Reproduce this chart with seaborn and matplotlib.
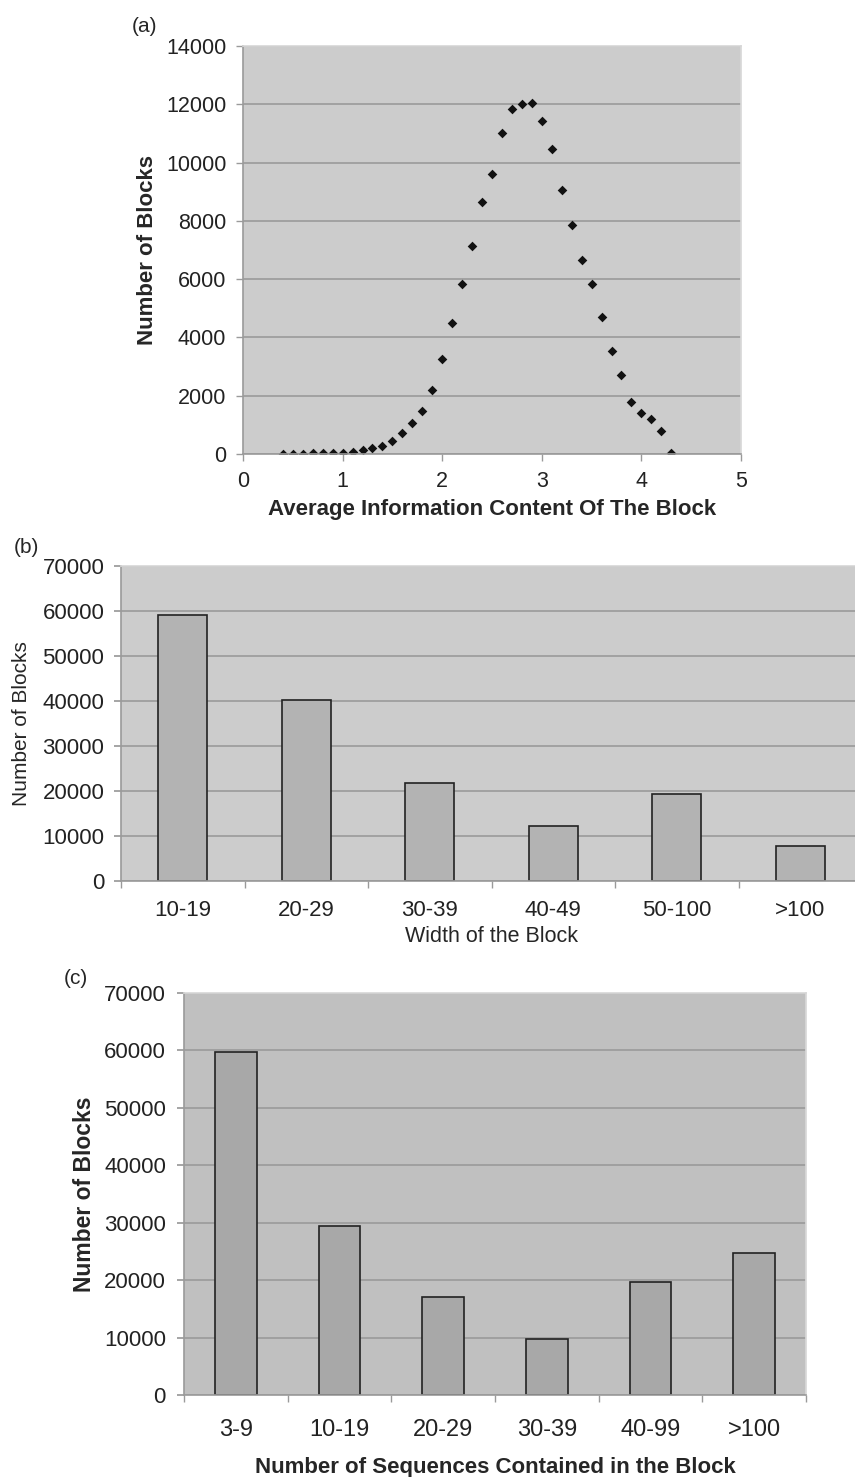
import numpy as np
import pandas as pd
import seaborn as sns
import matplotlib.pyplot as plt

# (a) average information content vs. number of blocks
info_content = [0.4, 0.5, 0.6, 0.7, 0.8, 0.9, 1.0, 1.1, 1.2, 1.3, 1.4, 1.5, 1.6, 1.7,
                1.8, 1.9, 2.0, 2.1, 2.2, 2.3, 2.4, 2.5, 2.6, 2.7, 2.8, 2.9, 3.0, 3.1,
                3.2, 3.3, 3.4, 3.5, 3.6, 3.7, 3.8, 3.9, 4.0, 4.1, 4.2, 4.3]
info_blocks = [0, 0, 0, 20, 20, 45, 45, 70, 125, 195, 275, 460, 710, 1050,
               1490, 2185, 3270, 4500, 5850, 7150, 8660, 9600, 11000, 11850, 12000, 12040, 11430, 10460,
               9050, 7870, 6650, 5835, 4690, 3535, 2710, 1800, 1400, 1210, 790, 20]

# (b) width of the block
width_cats = ["10-19", "20-29", "30-39", "40-49", "50-100", ">100"]
width_blocks = [59200, 40250, 21860, 12190, 19350, 7750]

# (c) number of sequences in the block
seq_cats = ["3-9", "10-19", "20-29", "30-39", "40-99", ">100"]
seq_blocks = [59660, 29450, 17080, 9750, 19630, 24670]

sns.set_theme(style="white")
plt.rcParams['font.family'] = ['Liberation Sans', 'DejaVu Sans']

W, H = 855, 1477
fig = plt.figure(figsize=(W / 100, H / 100), dpi=100)


def box(l, t, r, b):
    return [l / W, 1 - b / H, (r - l) / W, (b - t) / H]


def excel_axes(ax, face, grid='#9a9a9a'):
    ax.set_facecolor(face)
    ax.grid(axis='y', color=grid, lw=1.2)
    ax.set_axisbelow(True)
    for s in ['top', 'right']:
        ax.spines[s].set_color('#d8d8d8')
    for s in ['left', 'bottom']:
        ax.spines[s].set_color('#9a9a9a')
        ax.spines[s].set_linewidth(1.2)


# ---- (a) scatter
ax1 = fig.add_axes(box(243, 46, 741, 454))
sns.scatterplot(x=info_content, y=info_blocks, ax=ax1, marker='D', s=24,
                color='#111111', edgecolor='#111111', linewidth=0)
ax1.set_xlim(0, 5)
ax1.set_ylim(0, 14000)
ax1.set_xticks(range(0, 6))
ax1.set_yticks(range(0, 14001, 2000))
excel_axes(ax1, '#cccccc')
ax1.tick_params(axis='both', direction='out', length=5, width=1, color='#9a9a9a',
                labelsize=15.5, labelcolor='#222222', bottom=True, left=True)
ax1.tick_params(axis='x', pad=7)
ax1.tick_params(axis='y', pad=7)
ax1.set_xlabel("Average Information Content Of The Block", fontsize=16,
               fontweight='bold', labelpad=5)
ax1.set_ylabel("Number of Blocks", fontsize=16, fontweight='bold', labelpad=6)
fig.text(144 / W, 1 - 26 / H, "(a)", fontsize=15, ha='center', va='center')

# ---- (b) bars
ax2 = fig.add_axes(box(121, 566, 862, 881))
dfb = pd.DataFrame({"cat": width_cats, "n": width_blocks})
sns.barplot(data=dfb, x="cat", y="n", ax=ax2, color='#b3b3b3', width=0.4,
            edgecolor='#222222', linewidth=1.2, saturation=1)
ax2.set_ylim(0, 70000)
ax2.set_xlim(-0.5, 5.5)
ax2.set_yticks(range(0, 70001, 10000))
excel_axes(ax2, '#cccccc')
ax2.set_xticks(np.arange(-0.5, 6, 1), minor=True)
ax2.tick_params(axis='x', which='major', length=0, pad=14, labelsize=16)
ax2.tick_params(axis='x', which='minor', length=5, color='#9a9a9a', bottom=True, direction='out')
ax2.tick_params(axis='y', length=5, color='#9a9a9a', left=True, direction='out', pad=7,
                labelsize=16)
ax2.tick_params(labelcolor='#222222')
ax2.set_xlabel("Width of the Block", fontsize=15.5, labelpad=3)
ax2.set_ylabel("Number of Blocks", fontsize=15, labelpad=8)
fig.text(26 / W, 1 - 547 / H, "(b)", fontsize=15, ha='center', va='center')

# ---- (c) bars
ax3 = fig.add_axes(box(184, 993, 806, 1395))
dfc = pd.DataFrame({"cat": seq_cats, "n": seq_blocks})
sns.barplot(data=dfc, x="cat", y="n", ax=ax3, color='#a8a8a8', width=0.4,
            edgecolor='#222222', linewidth=1.2, saturation=1)
ax3.set_ylim(0, 70000)
ax3.set_xlim(-0.5, 5.5)
ax3.set_yticks(range(0, 70001, 10000))
excel_axes(ax3, '#c0c0c0')
ax3.set_xticks(np.arange(-0.5, 6, 1), minor=True)
ax3.tick_params(axis='x', which='major', length=0, pad=17, labelsize=17)
ax3.tick_params(axis='x', which='minor', length=5, color='#9a9a9a', bottom=True, direction='out')
ax3.tick_params(axis='y', length=5, color='#9a9a9a', left=True, direction='out', pad=8,
                labelsize=16)
ax3.tick_params(labelcolor='#222222')
ax3.set_xlabel("Number of Sequences Contained in the Block", fontsize=16,
               fontweight='bold', labelpad=12)
ax3.set_ylabel("Number of Blocks", fontsize=16.5, fontweight='bold', labelpad=6)
fig.text(76 / W, 1 - 978 / H, "(c)", fontsize=15, ha='center', va='center')

fig.savefig("out.png", dpi=100)
plt.close(fig)
